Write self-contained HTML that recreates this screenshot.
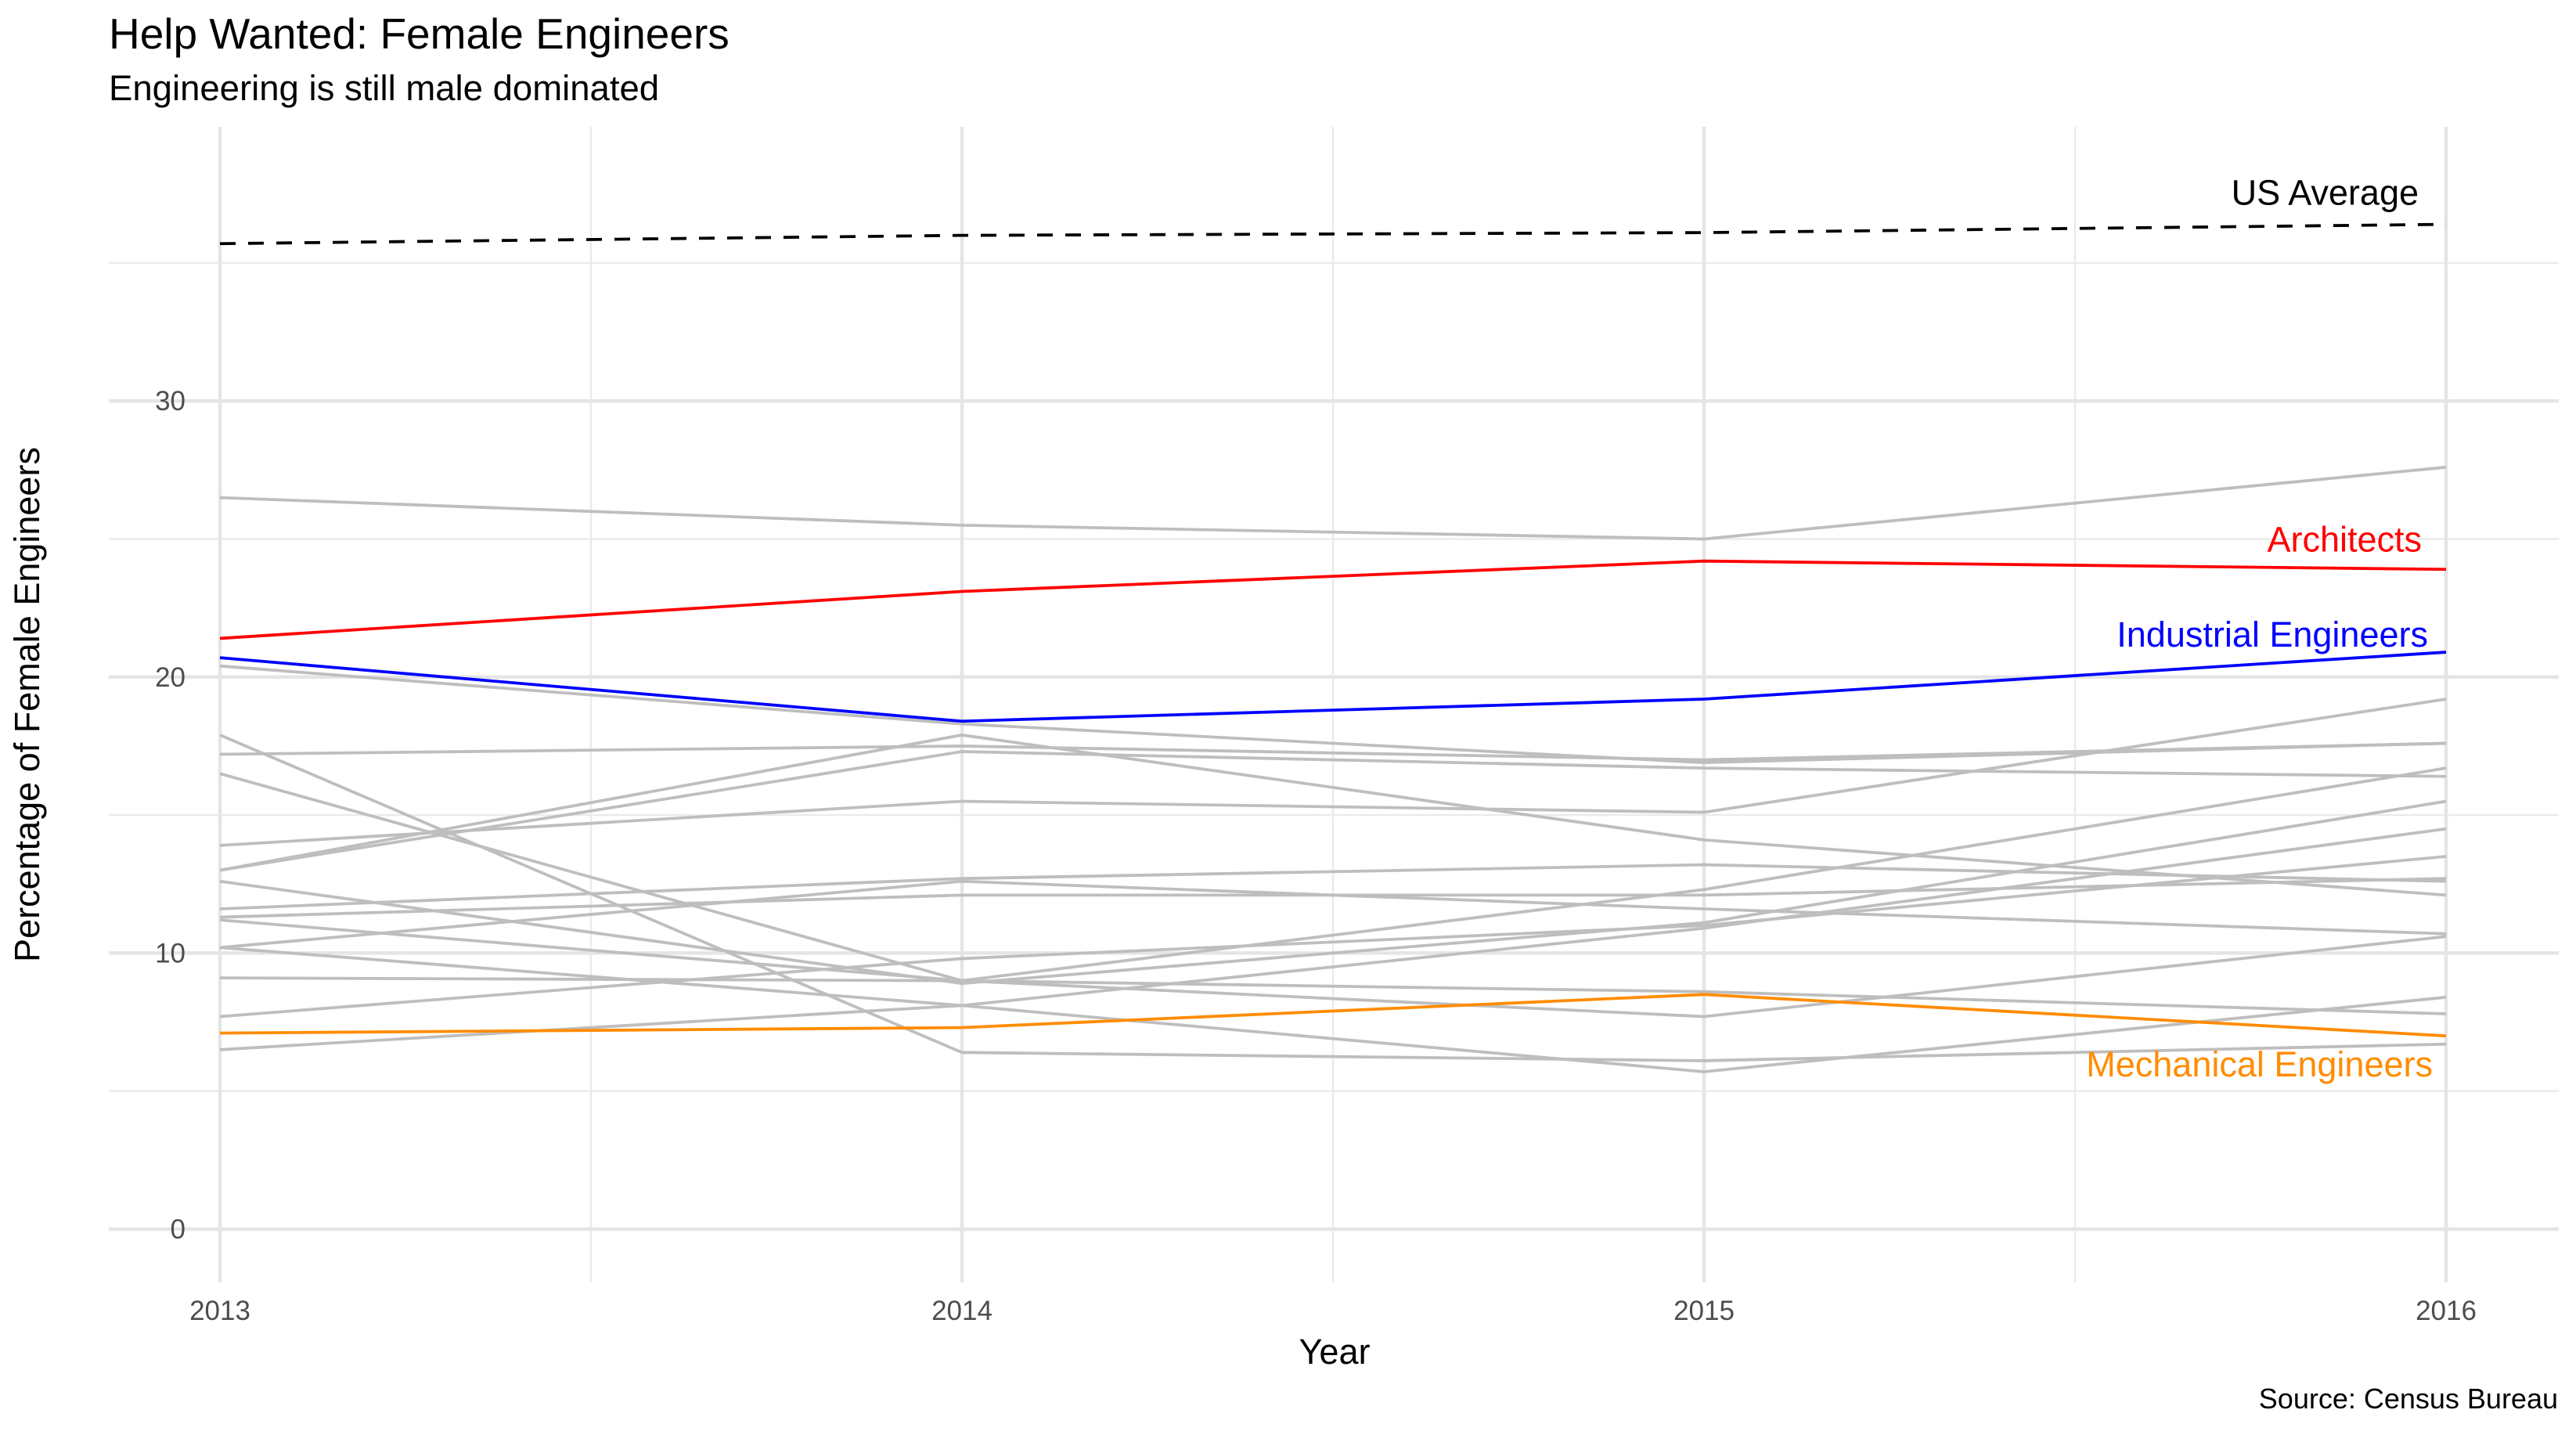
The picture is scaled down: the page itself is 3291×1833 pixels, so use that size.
<!DOCTYPE html>
<html><head><meta charset="utf-8"><style>
html,body{margin:0;padding:0;background:#fff}
svg{display:block;font-family:"Liberation Sans",Arial,sans-serif}
</style></head><body>
<svg id="chart" width="3291" height="1833" viewBox="0 0 3291 1833">
<text x="139" y="62" font-size="55" fill="#000">Help Wanted: Female Engineers</text>
<text x="139" y="128" font-size="45.5" fill="#000">Engineering is still male dominated</text>
<g id="grid"></g>
<g id="series"></g>
<g id="axes"></g>
<text x="1705" y="1742" font-size="45" text-anchor="middle" fill="#000">Year</text>
<text transform="translate(50,900) rotate(-90)" font-size="45" text-anchor="middle" fill="#000">Percentage of Female Engineers</text>
<text x="3268" y="1799" font-size="36" text-anchor="end" fill="#000">Source: Census Bureau</text>
</svg>
<script>
const years = [2013, 2014, 2015, 2016];
const yTicks = [0, 10, 20, 30];
const yMinor = [5, 15, 25, 35];
const grayA = [26.5, 25.5, 25.0, 27.6];
const grayB = [20.4, 18.3, 16.9, 17.6];
const grayC = [17.9, 6.4, 6.1, 6.7];
const grayD = [17.2, 17.5, 17.0, 17.6];
const grayE = [16.5, 9.0, 7.7, 10.6];
const grayF = [13.9, 15.5, 15.1, 19.2];
const grayG = [13.0, 17.9, 14.1, 12.1];
const grayH = [13.0, 17.3, 16.7, 16.4];
const grayI = [12.6, 8.9, 11.1, 15.5];
const grayJ = [11.6, 12.7, 13.2, 12.6];
const grayK = [11.3, 12.1, 12.1, 12.7];
const grayL = [11.2, 9.0, 12.3, 16.7];
const grayM = [10.2, 12.6, 11.6, 10.7];
const grayN = [10.2, 8.1, 5.7, 8.4];
const grayO = [9.1, 9.0, 8.6, 7.8];
const grayP = [7.7, 9.8, 11.0, 13.5];
const grayQ = [6.5, 8.1, 10.9, 14.5];
const grays = [grayA, grayB, grayC, grayD, grayE, grayF, grayG, grayH, grayI, grayJ, grayK, grayL, grayM, grayN, grayO, grayP, grayQ];
const architects = [21.4, 23.1, 24.2, 23.9];
const industrial = [20.7, 18.4, 19.2, 20.9];
const mechanical = [7.1, 7.3, 8.5, 7.0];
const usAverage = [35.7, 36.0, 36.1, 36.4];

const NS = 'http://www.w3.org/2000/svg';
const L = 139, R = 3269, T = 162, B = 1638;
function xs(yr){ return 281 + (yr - 2013) * (3125 - 281) / 3; }
function ys(v){ return 1570 - v * 35.26; }
function mk(tag, attrs, parent){ const e = document.createElementNS(NS, tag); for (const k in attrs) e.setAttribute(k, attrs[k]); parent.appendChild(e); return e; }
const grid = document.getElementById('grid');
const ser = document.getElementById('series');
const axes = document.getElementById('axes');

yMinor.forEach(v => {
  const l = mk('line', {x1:L, x2:R, y1:ys(v), y2:ys(v), stroke:'#ebebeb', 'stroke-width':2.5}, grid);
  
  
});
for (let i = 0; i < years.length - 1; i++) {
  const x = (xs(years[i]) + xs(years[i+1])) / 2;
  const l = mk('line', {x1:x, x2:x, y1:T, y2:B, stroke:'#ebebeb', 'stroke-width':2.5}, grid);
  
  
}
yTicks.forEach(v => {
  const l = mk('line', {x1:L, x2:R, y1:ys(v), y2:ys(v), stroke:'#e5e5e5', 'stroke-width':4.5}, grid);
  
  
  const t = mk('text', {x:237, y:ys(v) + 12, 'font-size':35, 'text-anchor':'end', fill:'#4d4d4d'}, axes);
  t.textContent = v;
  
  
});
years.forEach(yr => {
  const l = mk('line', {x1:xs(yr), x2:xs(yr), y1:T, y2:B, stroke:'#e5e5e5', 'stroke-width':4.5}, grid);
  
  
  const t = mk('text', {x:xs(yr), y:1686, 'font-size':35, 'text-anchor':'middle', fill:'#4d4d4d'}, axes);
  t.textContent = yr;
  
  
});
function pts(arr){ return arr.map((v, i) => xs(years[i]) + ',' + ys(v)).join(' '); }
grays.forEach(arr => {
  const p = mk('polyline', {points:pts(arr), fill:'none', stroke:'#bebebe', 'stroke-width':3.8}, ser);
  
  
});
const mech = mk('polyline', {points:pts(mechanical), fill:'none', stroke:'#ff8c00', 'stroke-width':3.8}, ser);


const ind = mk('polyline', {points:pts(industrial), fill:'none', stroke:'#0000ff', 'stroke-width':3.8}, ser);


const arc = mk('polyline', {points:pts(architects), fill:'none', stroke:'#ff0000', 'stroke-width':3.8}, ser);


const us = mk('polyline', {points:pts(usAverage), fill:'none', stroke:'#000', 'stroke-width':3.8, 'stroke-dasharray':'20 16'}, ser);



function label(txt, color, x, y, name){
  const t = mk('text', {x:x, y:y, 'font-size':45, 'text-anchor':'end', fill:color}, ser);
  t.textContent = txt;
  
  
}
label('US Average', '#000', 3090, ys(usAverage[3]) - 25, 'us-average-label');
label('Architects', '#ff0000', 3094, ys(architects[3]) - 23, 'architects-label');
label('Industrial Engineers', '#0000ff', 3102, ys(industrial[3]) - 7, 'industrial-engineers-label');
label('Mechanical Engineers', '#ff8c00', 3108, ys(mechanical[3]) + 52, 'mechanical-engineers-label');
</script>
</body></html>
